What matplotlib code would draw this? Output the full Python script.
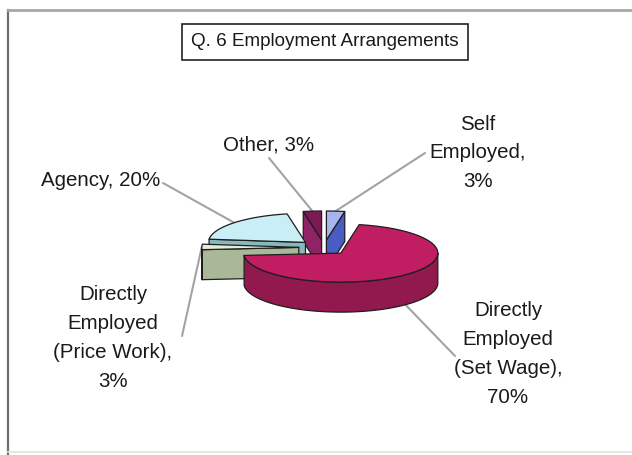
import numpy as np
import matplotlib
matplotlib.use("Agg")
import matplotlib.pyplot as plt
from matplotlib.patches import Polygon

# ---- data -------------------------------------------------------------
categories = ["Self\nEmployed,\n3%",
              "Directly\nEmployed\n(Set Wage),\n70%",
              "Directly\nEmployed\n(Price Work),\n3%",
              "Agency, 20%",
              "Other, 3%"]
values = [3, 70, 3, 20, 3]

top_colors = ["#a9b4ee", "#c01d63", "#e6ecdb", "#c9eef5", "#7c1a55"]
cut_colors = ["#4a5bc4", "#8f1a4c", "#a9b898", "#86b8bc", "#8e2466"]
wall_colors = ["#5566c8", "#92194d", "#8c9c82", "#9ac8cc", "#6a1546"]

# label centres and the point where each leader line leaves the label
label_xy = [(478, 153), (508, 354), (113, 338), (101, 181), (269, 145)]
leader_end = [(425, 153), (455, 356), (182, 336), (163, 183), (269, 158)]

# ---- 3-D pie geometry (screen pixels) ----------------------------------
CX, CY = 324.0, 247.5      # centre of the un-exploded top face
RX, RY = 97.0, 29.0        # ellipse radii of the top face
DEPTH = 30.0               # thickness of the pie
EXPLODE = 0.26             # explosion as a fraction of the radius

fig = plt.figure(figsize=(6.32, 4.55), dpi=100)
ax = fig.add_axes([0, 0, 1, 1])
ax.set_xlim(0, 632)
ax.set_ylim(455, 0)
ax.axis("off")

FONT = ["Liberation Sans", "DejaVu Sans"]


def proj(theta, r, z, off):
    t = np.radians(theta)
    x = CX + off[0] + RX * r * np.sin(t)
    y = CY + off[1] - RY * r * np.cos(t) + z
    return np.column_stack([np.atleast_1d(x), np.atleast_1d(y)])


total = float(sum(values))
bounds = np.concatenate([[0.0], np.cumsum(values) / total * 360.0])
slices = []
for i, v in enumerate(values):
    a, b = bounds[i], bounds[i + 1]
    mid = 0.5 * (a + b)
    m = np.radians(mid)
    off = (EXPLODE * RX * np.sin(m), -EXPLODE * RY * np.cos(m))
    slices.append(dict(i=i, a=a, b=b, mid=mid, off=off))

edge_kw = dict(edgecolor="#1e1e1e", linewidth=0.9, joinstyle="round")

# back slices first
for s in sorted(slices, key=lambda s: -np.cos(np.radians(s["mid"]))):
    i, a, b, off = s["i"], s["a"], s["b"], s["off"]
    apex_t = proj(0, 0, 0, off)
    apex_b = proj(0, 0, DEPTH, off)
    z0 = 5 + 10 * (1 - np.cos(np.radians(s["mid"])))

    # radial cut faces that face the viewer
    for th, visible in ((a, np.sin(np.radians(a)) < 0),
                        (b, np.sin(np.radians(b)) > 0)):
        if visible and 0 < (b - a) < 360:
            pts = np.vstack([apex_t, proj(th, 1, 0, off),
                             proj(th, 1, DEPTH, off), apex_b])
            ax.add_patch(Polygon(pts, closed=True, facecolor=cut_colors[i],
                                 zorder=z0, **edge_kw))

    # curved outer wall on the front half
    lo, hi = max(a, 90.0), min(b, 270.0)
    if hi > lo:
        th = np.linspace(lo, hi, 80)
        pts = np.vstack([proj(th, 1, 0, off), proj(th[::-1], 1, DEPTH, off)])
        ax.add_patch(Polygon(pts, closed=True, facecolor=wall_colors[i],
                             zorder=z0 + 0.1, **edge_kw))

    # top face
    th = np.linspace(a, b, max(4, int((b - a) * 1.5)))
    pts = np.vstack([apex_t, proj(th, 1, 0, off)])
    ax.add_patch(Polygon(pts, closed=True, facecolor=top_colors[i],
                         zorder=z0 + 0.2, **edge_kw))

# ---- labels and leader lines -----------------------------------------
for s in slices:
    i, mid, off = s["i"], s["mid"], s["off"]
    front = np.cos(np.radians(mid)) < 0
    anchor = proj(mid, 1, DEPTH if front else 0, off)[0]
    ex, ey = leader_end[i]
    ax.plot([anchor[0], ex], [anchor[1], ey], color="#a3a3a3", lw=1.5,
            zorder=1, solid_capstyle="round")
    lx, ly = label_xy[i]
    ax.text(lx, ly, categories[i], ha="center", va="center",
            multialignment="center", fontsize=14.8, family=FONT,
            color="#1a1a1a", linespacing=1.65, zorder=30)

# ---- title and frame ---------------------------------------------------
ax.text(325, 42, "Q. 6 Employment Arrangements", ha="center", va="center",
        fontsize=13.6, family=FONT, color="#1a1a1a", zorder=30,
        bbox=dict(boxstyle="square,pad=0.5", facecolor="white",
                  edgecolor="#222222", linewidth=1.2))

ax.plot([8, 8], [10, 455], color="#6e6e6e", lw=1.6, zorder=2)
ax.plot([8, 632], [10, 10], color="#a8a8a8", lw=2.0, zorder=2)
ax.plot([8, 632], [452, 452], color="#e2e2e2", lw=1.2, zorder=2)

fig.savefig("out.png", dpi=100, facecolor="white")
